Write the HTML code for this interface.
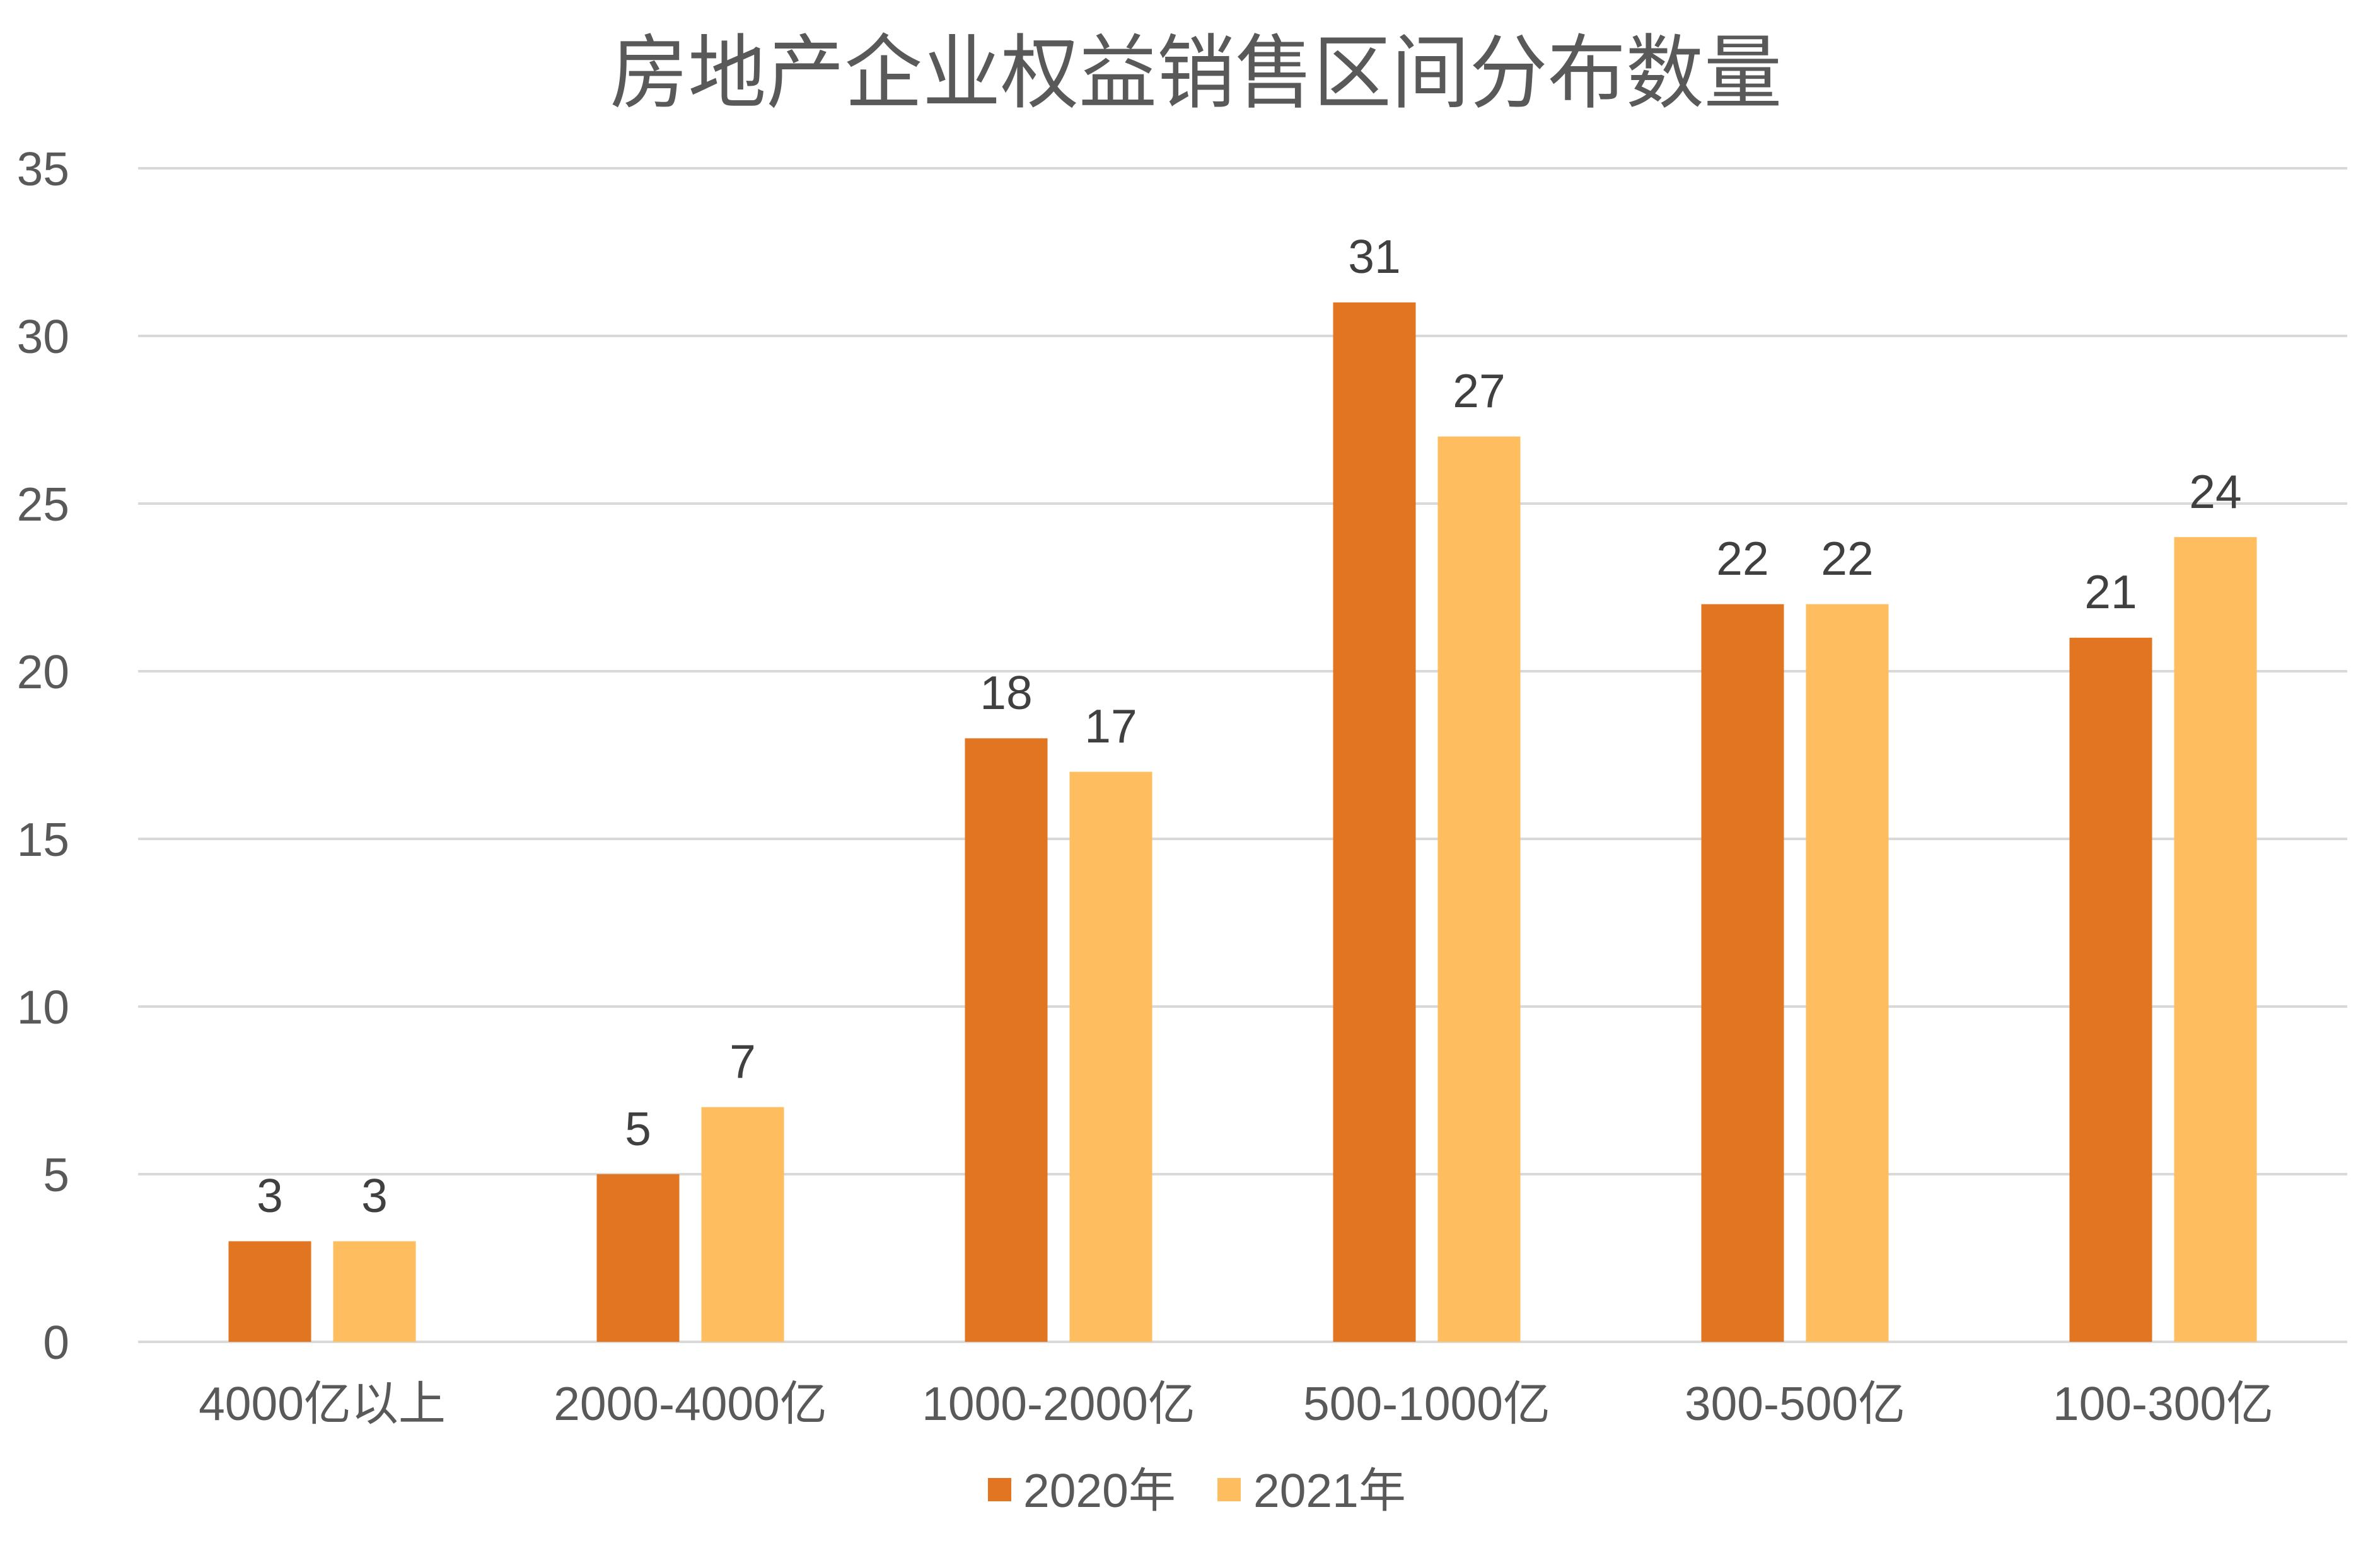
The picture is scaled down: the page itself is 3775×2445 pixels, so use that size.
<!DOCTYPE html>
<html><head><meta charset="utf-8"><style>html,body{margin:0;padding:0;background:#fff}svg{display:block}</style></head>
<body>
<svg xmlns="http://www.w3.org/2000/svg" width="3775" height="2445" viewBox="0 0 3775 2445" font-family="'Liberation Sans','Noto Sans CJK SC',sans-serif">
<rect width="3775" height="2445" fill="#fff"/>
<text x="1897" y="160" font-size="128" fill="#595959" text-anchor="middle" textLength="1859" lengthAdjust="spacingAndGlyphs">房地产企业权益销售区间分布数量</text>
<g stroke="#d9d9d9" stroke-width="4">
<line x1="219" x2="3723" y1="267" y2="267"/>
<line x1="219" x2="3723" y1="533" y2="533"/>
<line x1="219" x2="3723" y1="799" y2="799"/>
<line x1="219" x2="3723" y1="1065" y2="1065"/>
<line x1="219" x2="3723" y1="1331" y2="1331"/>
<line x1="219" x2="3723" y1="1597" y2="1597"/>
<line x1="219" x2="3723" y1="1863" y2="1863"/>
<line x1="219" x2="3723" y1="2129" y2="2129"/>
</g>
<g font-size="75" fill="#595959" text-anchor="end">
<text x="110" y="294">35</text>
<text x="110" y="560">30</text>
<text x="110" y="826">25</text>
<text x="110" y="1092">20</text>
<text x="110" y="1358">15</text>
<text x="110" y="1624">10</text>
<text x="110" y="1890">5</text>
<text x="110" y="2156">0</text>
</g>
<g id="bars"></g>
<g fill="#e27522">
<rect x="362.5" y="1969.4" width="131" height="159.6"/>
<rect x="946.5" y="1863" width="131" height="266"/>
<rect x="1530.5" y="1171.4" width="131" height="957.6"/>
<rect x="2114.5" y="479.8" width="131" height="1649.2"/>
<rect x="2698.5" y="958.6" width="131" height="1170.4"/>
<rect x="3282.5" y="1011.8" width="131" height="1117.2"/>
</g>
<g fill="#febe5f">
<rect x="528.5" y="1969.4" width="131" height="159.6"/>
<rect x="1112.5" y="1756.6" width="131" height="372.4"/>
<rect x="1696.5" y="1224.6" width="131" height="904.4"/>
<rect x="2280.5" y="692.6" width="131" height="1436.4"/>
<rect x="2864.5" y="958.6" width="131" height="1170.4"/>
<rect x="3448.5" y="852.2" width="131" height="1276.8"/>
</g>
<g font-size="75" fill="#404040" text-anchor="middle">
<text x="428" y="1923">3</text>
<text x="594" y="1923">3</text>
<text x="1012" y="1817">5</text>
<text x="1178" y="1710">7</text>
<text x="1596" y="1125">18</text>
<text x="1762" y="1178">17</text>
<text x="2180" y="433">31</text>
<text x="2346" y="646">27</text>
<text x="2764" y="912">22</text>
<text x="2930" y="912">22</text>
<text x="3348" y="965">21</text>
<text x="3514" y="806">24</text>
</g>
<g font-size="75" fill="#595959" text-anchor="middle">
<text x="511" y="2253">4000亿以上</text>
<text x="1095" y="2253">2000-4000亿</text>
<text x="1679" y="2253">1000-2000亿</text>
<text x="2263" y="2253">500-1000亿</text>
<text x="2847" y="2253">300-500亿</text>
<text x="3431" y="2253">100-300亿</text>
</g>
<rect x="1567" y="2345" width="37" height="37" fill="#e27522"/>
<text x="1623" y="2391" font-size="75" fill="#595959">2020年</text>
<rect x="1931" y="2345" width="37" height="37" fill="#febe5f"/>
<text x="1988" y="2391" font-size="75" fill="#595959">2021年</text>
</svg>
</body></html>
